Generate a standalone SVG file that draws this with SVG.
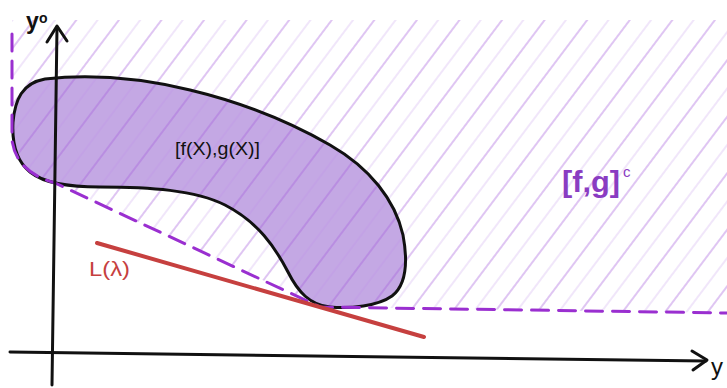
<svg xmlns="http://www.w3.org/2000/svg" width="727" height="388" viewBox="0 0 727 388">
  <style>
    .axis { fill: none; stroke: #111; stroke-width: 3; stroke-linecap: round; stroke-linejoin: round; }
    .hatchA { stroke: #a55ddc; stroke-width: 1.3; opacity: 0.55; }
    .hatchB { stroke: #bb8ce8; stroke-width: 1.1; opacity: 0.4; }
    .bound { fill: none; stroke: #9a2fd0; stroke-width: 3; stroke-dasharray: 17 10; stroke-linecap: round; }
    .lbl { font-family: "Liberation Sans", Arial, sans-serif; }
  </style>
  <defs>
    <pattern id="hatch" patternUnits="userSpaceOnUse" width="34" height="34" patternTransform="rotate(37)">
      <line class="hatchA" x1="5" y1="0" x2="5" y2="34"/>
      <line class="hatchB" x1="22" y1="0" x2="22" y2="34"/>
    </pattern>
    <clipPath id="region">
      <path d="M 12 20 L 727 20 L 727 313 L 320 307 L 55 183 Q 16 172 12 140 Z"/>
    </clipPath>
  </defs>
  <rect width="727" height="388" fill="#ffffff"/>

  <g id="blob">
    <path d="M 45 79 C 90 74, 140 78, 190 90 C 240 102, 290 122, 330 145 C 370 168, 395 200, 403 235 C 408 262, 406 285, 392 296 C 378 306, 350 309, 330 307 C 310 305, 298 292, 288 272 C 275 247, 258 222, 225 205 C 195 190, 150 187, 100 187 C 70 187, 45 184, 30 172 C 15 160, 12 140, 13 122 C 15 100, 22 83, 45 79 Z" fill="#c4a8e4"/>
  </g>

  <g id="region-hatch">
    <rect x="0" y="0" width="727" height="388" fill="url(#hatch)" clip-path="url(#region)"/>
  </g>

  <g id="blob-outline">
    <path d="M 45 79 C 90 74, 140 78, 190 90 C 240 102, 290 122, 330 145 C 370 168, 395 200, 403 235 C 408 262, 406 285, 392 296 C 378 306, 350 309, 330 307 C 310 305, 298 292, 288 272 C 275 247, 258 222, 225 205 C 195 190, 150 187, 100 187 C 70 187, 45 184, 30 172 C 15 160, 12 140, 13 122 C 15 100, 22 83, 45 79 Z" fill="none" stroke="#111" stroke-width="3" stroke-linejoin="round"/>
    <text class="lbl" x="175" y="155" font-size="18" font-weight="500" fill="#111" textLength="85" lengthAdjust="spacingAndGlyphs">[f(X),g(X)]</text>
  </g>

  <g id="connectors">
    <path class="bound" d="M 12 34 L 12 140 Q 16 172 55 183 L 320 307 L 727 313"/>
    <line x1="97" y1="243" x2="424" y2="337" stroke="#c6403f" stroke-width="4" stroke-linecap="round"/>
  </g>

  <g id="axes">
    <path class="axis" d="M 52 385 L 57 27"/>
    <path class="axis" d="M 47 42 L 57 26 L 67 41"/>
    <path class="axis" d="M 10 352 L 706 361"/>
    <path class="axis" d="M 692 351 L 707 360 L 693 370"/>
  </g>

  <g id="labels">
    <text class="lbl" x="26" y="29" font-size="23" font-weight="bold" fill="#111">y</text>
    <text class="lbl" x="39" y="23" font-size="14" font-weight="bold" fill="#111">o</text>
    <text class="lbl" x="711" y="375" font-size="24" fill="#111">y</text>
    <text class="lbl" x="89" y="276" font-size="20" fill="#c6403f" textLength="41" lengthAdjust="spacingAndGlyphs">L(λ)</text>
    <text class="lbl" x="562" y="192" font-size="29" font-weight="bold" fill="#8a3cc2" textLength="58" lengthAdjust="spacingAndGlyphs">[f,g]</text>
    <text class="lbl" x="623" y="177" font-size="15" fill="#8a3cc2">c</text>
  </g>
</svg>
